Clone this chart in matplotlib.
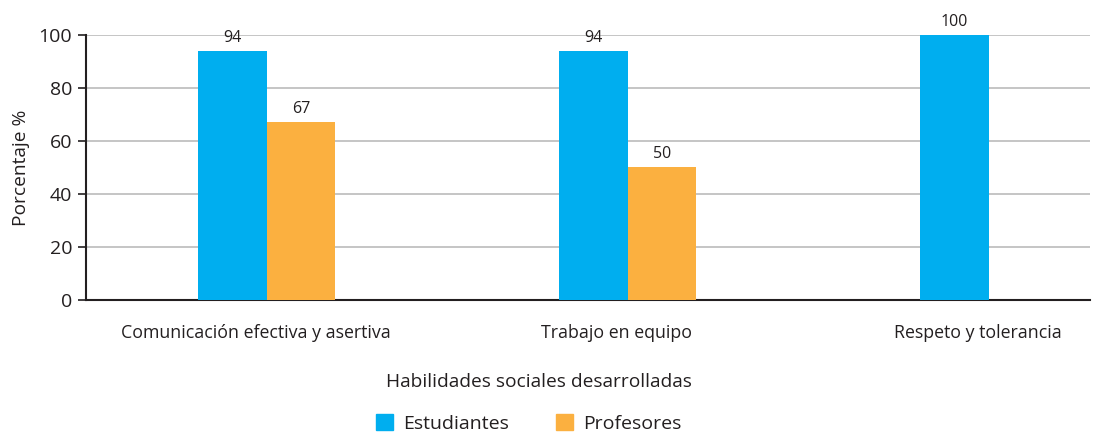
import matplotlib
matplotlib.use('Agg')
import matplotlib.pyplot as plt
import numpy as np
from matplotlib.patches import Patch

categories = ['Comunicación efectiva y asertiva', 'Trabajo en equipo', 'Respeto y tolerancia']
estudiantes = [94, 94, 100]
profesores = [67, 50, np.nan]
y_ticks = [0, 20, 40, 60, 80, 100]

blue = '#00AEEF'
orange = '#FBB040'
dark = '#231F20'

plt.rcParams['font.family'] = ['Open Sans', 'DejaVu Sans']

fig = plt.figure(figsize=(11.2, 4.32), dpi=100)
ax = fig.add_axes([0.0768, 0.3056, 0.8962, 0.6134])

x = np.arange(len(categories))
w = 0.19
b1 = ax.bar(x - w / 2, estudiantes, w, color=blue, zorder=3)
b2 = ax.bar(x + w / 2, profesores, w, color=orange, zorder=3)

for rects, vals in [(b1, estudiantes), (b2, profesores)]:
    for r, v in zip(rects, vals):
        if np.isnan(v):
            continue
        ax.text(r.get_x() + r.get_width() / 2, v + 2, '%d' % v, ha='center', va='bottom',
                fontsize=11.5, color=dark)

ax.set_xlim(-0.5, 2.28)
ax.set_ylim(0, 100)
ax.set_yticks(y_ticks)
ax.yaxis.grid(True, color='#BBBBBB', linewidth=1.2, zorder=0)
ax.set_axisbelow(True)

ax.set_xticks(x - 0.03)
ax.set_xticklabels(categories, fontsize=12.8, color=dark)
ax.tick_params(axis='x', length=0, pad=17)
ax.tick_params(axis='y', labelsize=14, labelcolor=dark, length=6, width=1.2, color=dark, pad=4)

for s in ['top', 'right']:
    ax.spines[s].set_visible(False)
for s in ['left', 'bottom']:
    ax.spines[s].set_color(dark)
    ax.spines[s].set_linewidth(1.5)

ax.set_ylabel('Porcentaje %', fontsize=13.8, color=dark, labelpad=6)

fig.text(0.481, 0.116, 'Habilidades sociales desarrolladas', ha='center', va='center',
         fontsize=13.8, color=dark)

handles = [Patch(color=blue, label='Estudiantes'), Patch(color=orange, label='Profesores')]
fig.legend(handles=handles, loc='center', bbox_to_anchor=(0.472, 0.02), ncol=2, frameon=False,
           fontsize=14, handlelength=0.9, handleheight=0.9, columnspacing=2.4,
           handletextpad=0.5, labelcolor=dark)

fig.savefig('out.png', dpi=100)
